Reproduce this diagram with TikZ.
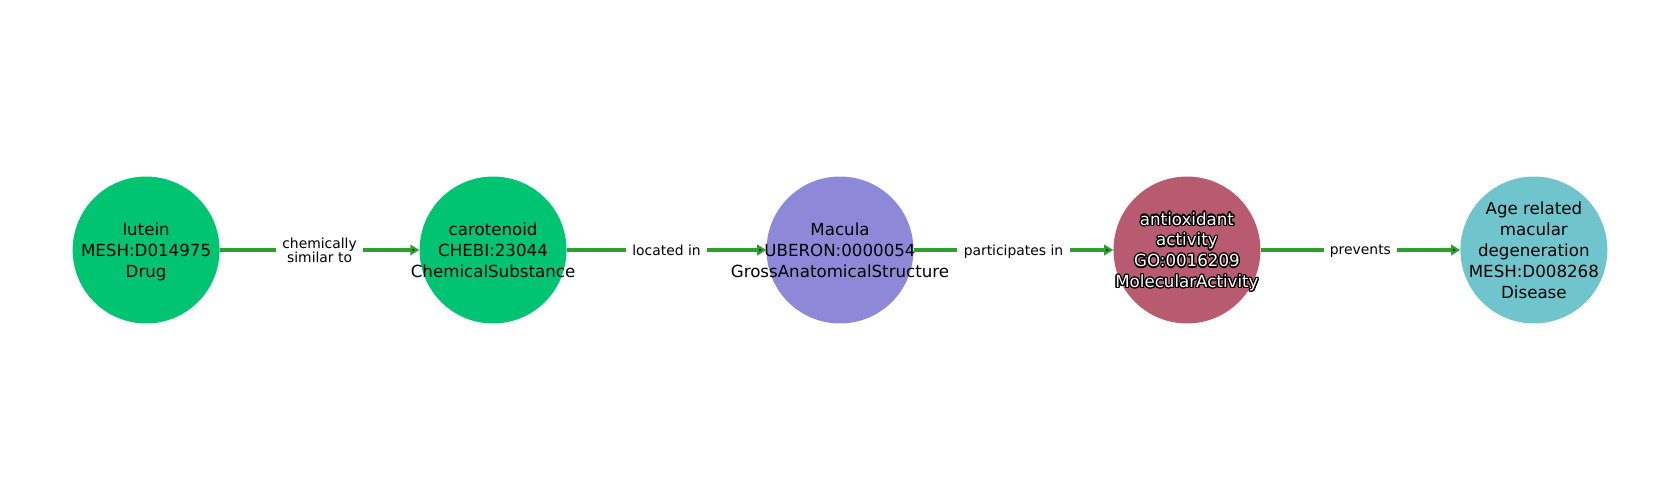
\documentclass[tikz,border=0pt]{standalone}
\usepackage{fontspec}
\setmainfont{DejaVu Sans}
\usepackage[copies]{contour}
\contourlength{0.9pt}
\usepackage{tikz}
\usetikzlibrary{matrix,arrows.meta}
\definecolor{chemgreen}{HTML}{00C472}
\definecolor{anatomy}{HTML}{8D89D8}
\definecolor{activity}{HTML}{B85B70}
\definecolor{disease}{HTML}{6FC5CB}
\definecolor{relgreen}{HTML}{2CA02C}
\newcommand{\ent}[1]{\makebox[0pt]{\raisebox{-1.6pt}[\height][\depth]{\begin{tabular}{@{}c@{}}#1\end{tabular}}}}

\begin{document}
\begin{tikzpicture}[x=0.72pt,y=0.72pt,
  entity/.style={circle,minimum size=105.8pt,inner sep=0pt,font=\fontsize{12}{15}\selectfont},
  rel/.style={draw=relgreen,line width=2.6pt,-{Triangle[length=6.5pt,width=7.5pt]}},
  rellabel/.style={fill=white,inner xsep=4.6pt,inner ysep=1pt,text depth=0pt,align=center,font=\fontsize{10}{10}\selectfont}]
  \useasboundingbox (0,0) rectangle (1680,500);
  \matrix (m) at (840,250) [matrix of nodes, column sep=144pt, nodes={entity}]
  {
    |[fill=chemgreen]| \ent{lutein\\MESH:D014975\\Drug} &
    |[fill=chemgreen]| \ent{carotenoid\\CHEBI:23044\\ChemicalSubstance} &
    |[fill=anatomy]| \ent{Macula\\UBERON:0000054\\GrossAnatomicalStructure} &
    |[fill=activity,text=white]| \ent{\contour{black}{antioxidant}\\\contour{black}{activity}\\\contour{black}{GO:0016209}\\\contour{black}{MolecularActivity}} &
    |[fill=disease]| \ent{Age related\\macular\\degeneration\\MESH:D008268\\Disease} \\
  };
  \path[rel]
  (m-1-1) edge node [rellabel] {chemically\\similar to} (m-1-2)
  (m-1-2) edge node [rellabel] {located in} (m-1-3)
  (m-1-3) edge node [rellabel] {participates in} (m-1-4)
  (m-1-4) edge node [rellabel] {prevents} (m-1-5)
  ;
\end{tikzpicture}
\end{document}
